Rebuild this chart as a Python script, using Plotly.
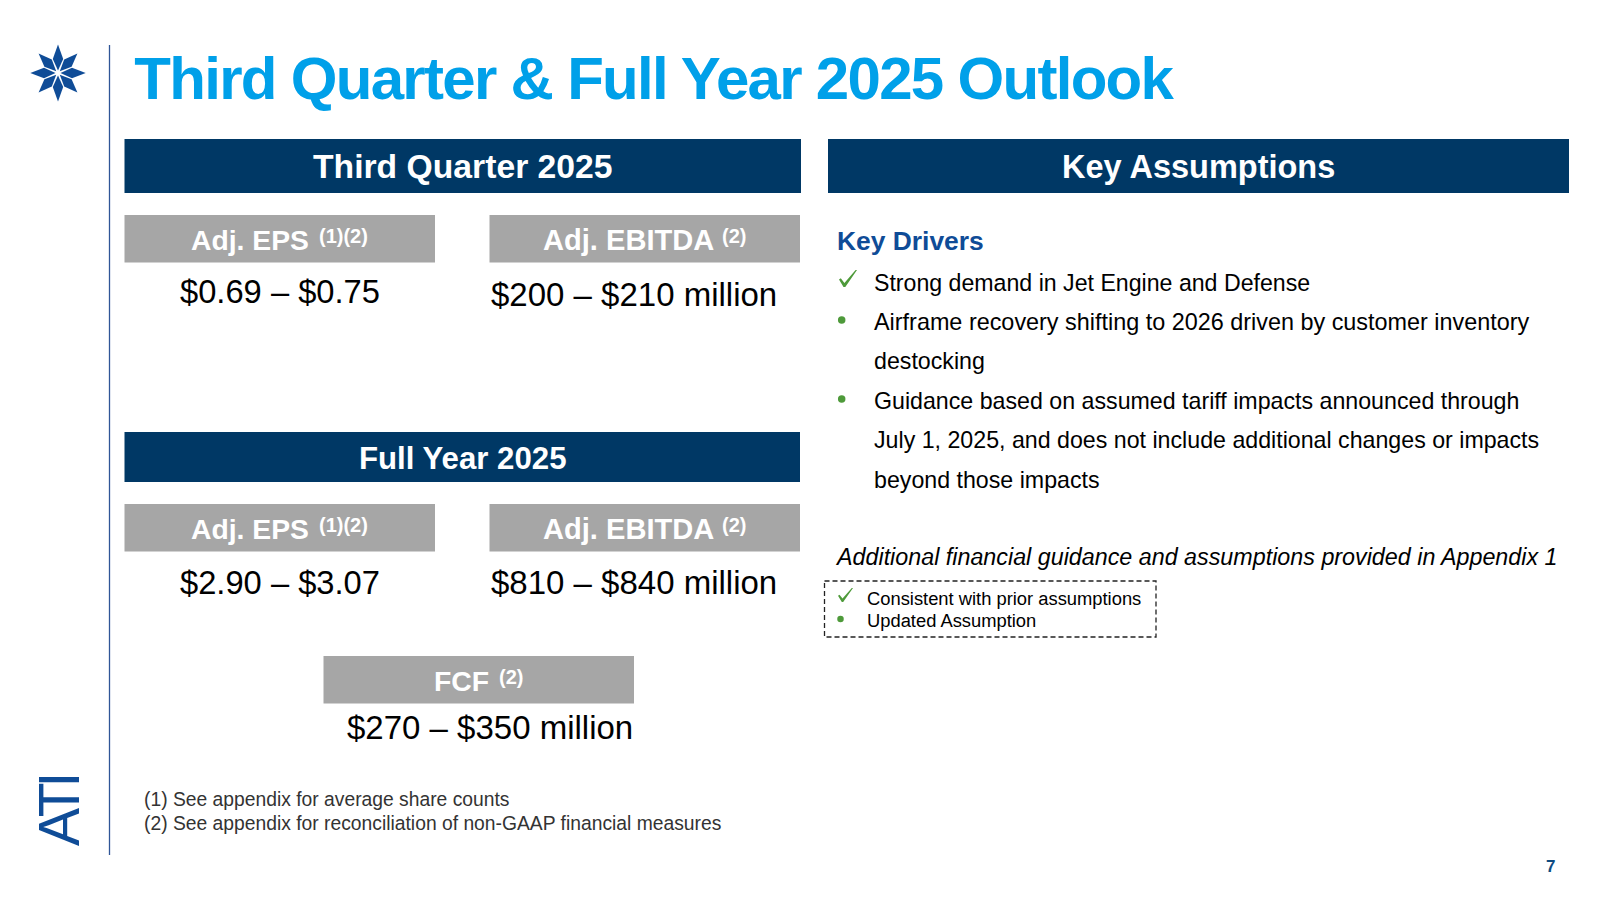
import math
import plotly.graph_objects as go

TITLE = "Third Quarter & Full Year 2025 Outlook"
BANNERS = ["Third Quarter 2025", "Key Assumptions", "Full Year 2025"]
GRAY_LABELS = ["Adj. EPS", "Adj. EBITDA", "Adj. EPS", "Adj. EBITDA", "FCF"]
GRAY_SUPS = ["(1)(2)", "(2)", "(1)(2)", "(2)", "(2)"]
VALUES = ["$0.69 – $0.75", "$200 – $210 million", "$2.90 – $3.07", "$810 – $840 million", "$270 – $350 million"]
BODY = ["Strong demand in Jet Engine and Defense",
        "Airframe recovery shifting to 2026 driven by customer inventory",
        "destocking",
        "Guidance based on assumed tariff impacts announced through",
        "July 1, 2025, and does not include additional changes or impacts",
        "beyond those impacts"]
NOTE = "Additional financial guidance and assumptions provided in Appendix 1"
LEGEND = ["Consistent with prior assumptions", "Updated Assumption"]
FOOT = ["(1) See appendix for average share counts", "(2) See appendix for reconciliation of non-GAAP financial measures"]

NAVY = "#003865"; GRAY = "#A6A6A6"; BLUE = "#0F4C97"; CYAN = "#00A0E9"; GREEN = "#4E9A3A"
F = "Liberation Sans"
shapes, ann = [], []

def rect(x0, y0, x1, y1, c):
    shapes.append(dict(type="rect", x0=x0, y0=y0, x1=x1, y1=y1, fillcolor=c, line_width=0, layer="below"))

def text(s, x, y, size, color="#000", anchor="left", bold=False, italic=False, angle=0):
    ann.append(dict(text=s, x=x, y=y, xref="x", yref="y", xanchor=anchor, yanchor="middle", showarrow=False,
                    borderpad=0, borderwidth=0, textangle=angle,
                    font=dict(family=F, size=size, color=color, weight=700 if bold else 400,
                              style="italic" if italic else "normal")))

def check(x0, y0, x1, y1):
    w, h = x1 - x0, y1 - y0
    pts = [(0, .55), (.1, .48), (.3, .76), (.92, 0), (1, 0), (.35, 1), (.25, 1)]
    d = "M" + " L".join(f"{x0+a*w:.1f},{y0+b*h:.1f}" for a, b in pts) + " Z"
    shapes.append(dict(type="path", path=d, fillcolor=GREEN, line_width=0))

# logo star
cx, cy = 58, 73
for i in range(8):
    a = i * math.pi / 4
    ux, uy = math.cos(a), math.sin(a)
    px, py = -uy, ux
    R = 28.5 if i % 4 == 2 else (27.7 if i % 4 == 0 else 27.5)
    pts = [(2.5, 0), (14, 5.2), (R, 0), (14, -5.2)]
    d = "M" + " L".join(f"{cx+r*ux+s*px:.1f},{cy+r*uy+s*py:.1f}" for r, s in pts) + " Z"
    shapes.append(dict(type="path", path=d, fillcolor=BLUE, line_width=0))

# vertical rule
shapes.append(dict(type="line", x0=109.5, x1=109.5, y0=45, y1=855, line=dict(color="#2F5597", width=1.3)))

# banners
rect(124.5, 139, 801, 193, NAVY)
rect(828, 139, 1569, 193, NAVY)
rect(124.5, 432, 800, 482, NAVY)
text(BANNERS[0], 462.5, 166, 33.7, "#fff", "center", True)
text(BANNERS[1], 1198.5, 167, 32.5, "#fff", "center", True)
text(BANNERS[2], 462, 458, 31.2, "#fff", "center", True)

# gray boxes
boxes = [(124.5, 215), (489.5, 215), (124.5, 504), (489.5, 504), (323.5, 656)]
label_x = [191.3, 542.9, 191.3, 542.9, 434.4]
sup_x = [318.6, 722.2, 318.6, 722.2, 499]
label_sizes = [28.3, 29.1, 28.3, 29.1, 28.4]
for (bx, by), lx, sx, lab, sup, ls in zip(boxes, label_x, sup_x, GRAY_LABELS, GRAY_SUPS, label_sizes):
    rect(bx, by, bx + 310.5, by + 47.5, GRAY)
    text(lab, lx, by + 25, ls, "#fff", "left", True)
    text(sup, sx, by + 20.7, 20, "#fff", "left", True)

# values
vx = [279.6, 634, 279.6, 634, 490]
vy = [291, 294, 582.5, 582.5, 727.5]
vs = [32.7, 33, 32.7, 33, 33]
for s, x, y, z in zip(VALUES, vx, vy, vs):
    text(s, x, y, z, "#000", "center")

# key drivers
text("Key Drivers", 836.7, 241, 26.4, BLUE, "left", True)
body_sizes = [23.15, 23.4, 23.2, 23.2, 23.2, 23.2]
for s, y, z in zip(BODY, [283, 322, 361, 401, 440, 479.5], body_sizes):
    text(s, 874, y, z)
check(839, 270, 857, 287)
text(NOTE, 834.5, 557, 23.3, "#000", "left", False, True)

# legend box
shapes.append(dict(type="rect", x0=824.5, y0=581, x1=1156, y1=637,
                   line=dict(color="#222", width=1.3, dash="5px,3px"), fillcolor="rgba(0,0,0,0)"))
check(838, 588, 853, 602)
text(LEGEND[0], 866.5, 598, 18.35)
text(LEGEND[1], 866.5, 620, 18.35)

# footnotes and page marks
text(FOOT[0], 144, 799, 19.3, "#333")
text(FOOT[1], 144, 823, 19.3, "#333")
text("7", 1550.5, 866, 17, "#0F4C81", "center", True)
text("ATI", 58, 811.5, 57, BLUE, "center", False, False, -90)
text(TITLE, 653.6, 78, 60, CYAN, "center", True)

dots = go.Scatter(x=[841.7, 841.7, 840.5], y=[320, 399, 619], mode="markers",
                  marker=dict(color=GREEN, size=[7.5, 7.5, 6.5], opacity=1, line_width=0),
                  hoverinfo="skip", showlegend=False)

fig = go.Figure(dots)
fig.update_layout(width=1600, height=900, margin=dict(l=0, r=0, t=0, b=0), plot_bgcolor="#fff", paper_bgcolor="#fff",
                  shapes=shapes, annotations=ann, showlegend=False,
                  xaxis=dict(visible=False, range=[0, 1600], fixedrange=True),
                  yaxis=dict(visible=False, range=[900, 0], fixedrange=True))

post = """
document.body.style.margin='0';
document.body.style.overflow='hidden';
document.querySelectorAll('.annotation-text').forEach(function(t){
  var s=t.textContent;
  if(s.indexOf('Third Quarter & Full')===0){t.style.letterSpacing='-1.7px';}
  if(s==='ATI'){t.style.letterSpacing='-5px';}
});
"""
fig.write_html("out.html", post_script=post, config=dict(displayModeBar=False))
